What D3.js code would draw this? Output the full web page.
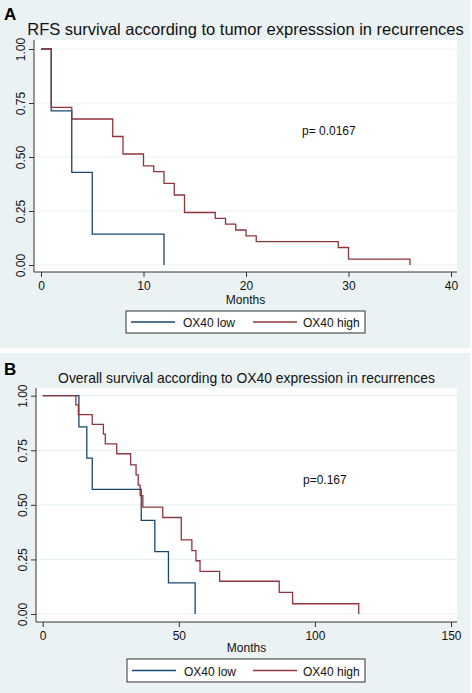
<!DOCTYPE html>
<html><head><meta charset="utf-8">
<script src="https://cdn.jsdelivr.net/npm/d3@7"></script>
<style>
body{margin:0;background:#fff;}
svg{display:block;font-family:"Liberation Sans",Arial,sans-serif;}
</style></head>
<body>
<svg id="chart" width="472" height="693"></svg>
<script>
// ---- Data ----
const seriesNames = ["OX40 low", "OX40 high"];
const seriesColors = ["#1a476f", "#90353b"];
const yTicks = [0, 0.25, 0.5, 0.75, 1];

// Panel A: RFS
const rfsTitle = "RFS survival according to tumor expresssion in recurrences";
const rfsP = "p= 0.0167";
const rfsXTicks = [0, 10, 20, 30, 40];
const rfsLowMonths = [0, 1, 3, 5, 12];
const rfsLowSurv   = [1, 0.714, 0.429, 0.143, 0];
const rfsHighMonths = [0, 1, 3, 7, 8, 10, 11, 12, 13, 14, 17, 18, 19, 20, 21, 29, 30, 36];
const rfsHighSurv   = [1, 0.730, 0.676, 0.595, 0.514, 0.459, 0.432, 0.378, 0.324, 0.243, 0.216, 0.189, 0.162, 0.135, 0.108, 0.081, 0.027, 0];

// Panel B: Overall survival
const osTitle = "Overall survival according to OX40 expression in recurrences";
const osP = "p=0.167";
const osXTicks = [0, 50, 100, 150];
const osLowMonths = [0, 13.3, 16.2, 18.2, 36.2, 41.2, 46.2, 56];
const osLowSurv   = [1, 0.857, 0.714, 0.571, 0.429, 0.286, 0.143, 0];
const osHighMonths = [0, 12.2, 13.1, 18.2, 22.3, 23, 27.2, 32.3, 34.3, 35.1, 35.8, 36.8, 44.1, 50.9, 54.8, 56.3, 57.8, 65, 86.9, 91.8, 116.1];
const osHighSurv   = [1, 0.958, 0.913, 0.869, 0.824, 0.779, 0.734, 0.683, 0.637, 0.590, 0.542, 0.490, 0.442, 0.340, 0.290, 0.244, 0.195, 0.150, 0.099, 0.047, 0];

// ---- Drawing ----
const svg = d3.select("#chart");
const bg = "#eaf2f3";
const font = "'Liberation Sans',Arial,sans-serif";

function panel(cfg) {
  const g = svg.append("g");
  // graph region
  g.append("rect").attr("x", 0).attr("y", cfg.top).attr("width", 470).attr("height", cfg.bottom - cfg.top).attr("fill", bg);
  // plot region
  g.append("rect").attr("x", cfg.pl).attr("y", cfg.pt).attr("width", cfg.pr - cfg.pl).attr("height", cfg.pb - cfg.pt).attr("fill", "#fff");

  const x = d3.scaleLinear().domain(cfg.xDomain).range(cfg.xRange);
  const y = d3.scaleLinear().domain([0, 1]).range(cfg.yRange);

  // gridlines
  g.append("g").selectAll("line").data(yTicks).join("line")
    .attr("x1", cfg.pl + 1).attr("x2", cfg.pr).attr("y1", d => y(d)).attr("y2", d => y(d))
    .attr("stroke", bg).attr("stroke-width", 1.2);

  // y axis
  const ya = g.append("g").attr("transform", `translate(${cfg.pl},0)`)
    .call(d3.axisLeft(y).tickValues(yTicks).tickFormat(d3.format(".2f")).tickSize(5));
  ya.select(".domain").remove();
  ya.selectAll(".tick line").attr("stroke", "#333");
  ya.selectAll(".tick text").attr("x", null).attr("dy", null)
    .attr("transform", "translate(-9,0) rotate(-90)").attr("text-anchor", "middle")
    .attr("font-size", 12).attr("font-family", font).attr("fill", "#111");

  // x axis
  const xa = g.append("g").attr("transform", `translate(0,${cfg.pb})`)
    .call(d3.axisBottom(x).tickValues(cfg.xTicks).tickFormat(d3.format("d")).tickSize(5));
  xa.select(".domain").remove();
  xa.selectAll(".tick line").attr("stroke", "#333");
  xa.selectAll(".tick text").attr("y", cfg.xLabOff).attr("dy", null)
    .attr("font-size", 12).attr("font-family", font).attr("fill", "#111");

  // axis lines
  g.append("line").attr("x1", cfg.pl).attr("x2", cfg.pl).attr("y1", cfg.pt).attr("y2", cfg.pb).attr("stroke", "#333").attr("stroke-width", 1);
  g.append("line").attr("x1", cfg.pl).attr("x2", cfg.pr).attr("y1", cfg.pb).attr("y2", cfg.pb).attr("stroke", "#333").attr("stroke-width", 1);

  // curves
  const line = d3.line().x(d => x(d[0])).y(d => y(d[1])).curve(d3.curveStepAfter);
  cfg.series.forEach((s, i) => {
    g.append("path").datum(d3.zip(s[0], s[1]))
      .attr("d", line).attr("fill", "none").attr("stroke", seriesColors[i]).attr("stroke-width", 1.3);
  });

  // titles
  g.append("text").attr("x", 4).attr("y", cfg.letterY).text(cfg.letter)
    .attr("font-size", 17).attr("font-weight", "bold").attr("font-family", font).attr("fill", "#000");
  g.append("text").attr("x", (cfg.pl + cfg.pr) / 2).attr("y", cfg.titleY).attr("text-anchor", "middle")
    .text(cfg.title).attr("font-size", cfg.titleSize).attr("font-family", font).attr("fill", "#111");
  g.append("text").attr("x", (cfg.pl + cfg.pr) / 2).attr("y", cfg.monthsY).attr("text-anchor", "middle")
    .text("Months").attr("font-size", 12).attr("font-family", font).attr("fill", "#111");
  g.append("text").attr("x", cfg.pX).attr("y", cfg.pY).text(cfg.p)
    .attr("font-size", 12).attr("font-family", font).attr("fill", "#111");

  // legend
  const L = cfg.legend;
  g.append("rect").attr("x", L.x0).attr("y", L.y0).attr("width", L.x1 - L.x0).attr("height", L.y1 - L.y0)
    .attr("fill", "#fff").attr("stroke", "#333").attr("stroke-width", 1);
  const ly = (L.y0 + L.y1) / 2;
  const entries = [{lx: L.x0 + 5, tx: L.x0 + 57}, {lx: 253, tx: 303}];
  entries.forEach((e, i) => {
    g.append("line").attr("x1", e.lx).attr("x2", e.lx + 44).attr("y1", ly).attr("y2", ly)
      .attr("stroke", seriesColors[i]).attr("stroke-width", 1.3);
    g.append("text").attr("x", e.tx).attr("y", ly + 5).text(seriesNames[i])
      .attr("font-size", 12).attr("font-family", font).attr("fill", "#111");
  });
}

panel({
  top: 0, bottom: 348, pl: 34, pr: 457, pt: 40, pb: 272,
  xDomain: [0, 40], xRange: [41, 451], yRange: [265, 49], xTicks: rfsXTicks, xLabOff: 18,
  series: [[rfsLowMonths, rfsLowSurv], [rfsHighMonths, rfsHighSurv]],
  letter: "A", letterY: 20, title: rfsTitle, titleY: 35, titleSize: 16.5, monthsY: 304,
  p: rfsP, pX: 302, pY: 135,
  legend: {x0: 126, x1: 365, y0: 311, y1: 333}
});

panel({
  top: 353, bottom: 693, pl: 36, pr: 457, pt: 388, pb: 622,
  xDomain: [0, 150], xRange: [42.7, 451], yRange: [614, 395.7], xTicks: osXTicks, xLabOff: 18,
  series: [[osLowMonths, osLowSurv], [osHighMonths, osHighSurv]],
  letter: "B", letterY: 375, title: osTitle, titleY: 383, titleSize: 13.9, monthsY: 652,
  p: osP, pX: 303, pY: 484,
  legend: {x0: 127, x1: 365, y0: 659, y1: 682}
});
</script>
</body></html>
